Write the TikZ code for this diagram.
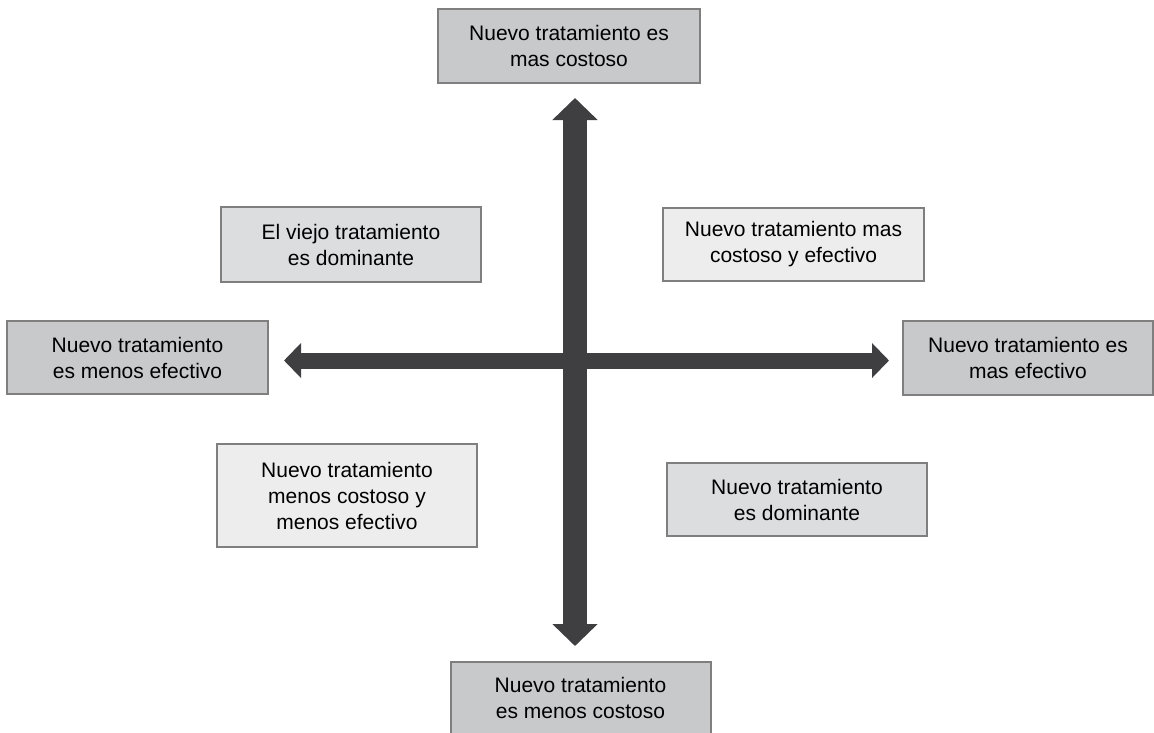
\documentclass[tikz,border=0pt]{standalone}
\usepackage{fontspec}
\setmainfont{Liberation Sans}
\usetikzlibrary{arrows.meta}
\definecolor{boxdark}{HTML}{C8C9CB}
\definecolor{boxmid}{HTML}{DCDDDF}
\definecolor{boxlight}{HTML}{ECEDEC}
\definecolor{boxline}{HTML}{7F7F7F}
\definecolor{arrowcol}{HTML}{3F3F41}
\tikzset{
  qbox/.style={draw=boxline, line width=2pt, align=center, inner sep=0pt,
    font=\fontsize{21}{26}\selectfont, text=black},
  darkbox/.style={qbox, fill=boxdark},
  midbox/.style={qbox, fill=boxmid},
  lightbox/.style={qbox, fill=boxlight},
  vaxis/.style={draw=arrowcol, line width=24pt,
    {Triangle[width=44pt,length=22pt,fill=arrowcol]}-{Triangle[width=44pt,length=22pt,fill=arrowcol]},
    shorten <=14pt, shorten >=15pt},
  haxis/.style={draw=arrowcol, line width=16pt,
    {Triangle[width=34pt,length=17pt,fill=arrowcol]}-{Triangle[width=34pt,length=17pt,fill=arrowcol]},
    shorten <=15pt, shorten >=13pt},
}
\begin{document}
\begin{tikzpicture}[x=1pt,y=-1pt]
\useasboundingbox (0,0) rectangle (1154,732);
\clip (0,0) rectangle (1154,732);
\coordinate (c) at (575,360.5);
\node[darkbox, minimum width=262pt, minimum height=74pt] (top) at (569,46) {Nuevo tratamiento es\\mas costoso};
\node[darkbox, minimum width=260pt, minimum height=72pt] (bottom) at (580.5,698) {Nuevo tratamiento\\es menos costoso};
\node[darkbox, minimum width=261pt, minimum height=73pt] (left) at (137.5,357.5) {Nuevo tratamiento\\es menos efectivo};
\node[darkbox, minimum width=250pt, minimum height=74pt] (right) at (1028,358) {Nuevo tratamiento es\\mas efectivo};
\node[midbox, minimum width=260pt, minimum height=75pt] (ul) at (351,244.5) {El viejo tratamiento\\es dominante};
\node[lightbox, minimum width=261pt, minimum height=73pt] (ur) at (793.5,244.5) {Nuevo tratamiento mas\\costoso y efectivo};
\node[lightbox, minimum width=260pt, minimum height=103pt] (ll) at (347,495.5) {Nuevo tratamiento\\menos costoso y\\menos efectivo};
\node[midbox, minimum width=260pt, minimum height=73pt] (lr) at (797,499.5) {Nuevo tratamiento\\es dominante};
\draw[haxis] (left.east |- c) -- (right.west |- c);
\draw[vaxis] (top.south -| c) -- (bottom.north -| c);
\end{tikzpicture}
\end{document}
